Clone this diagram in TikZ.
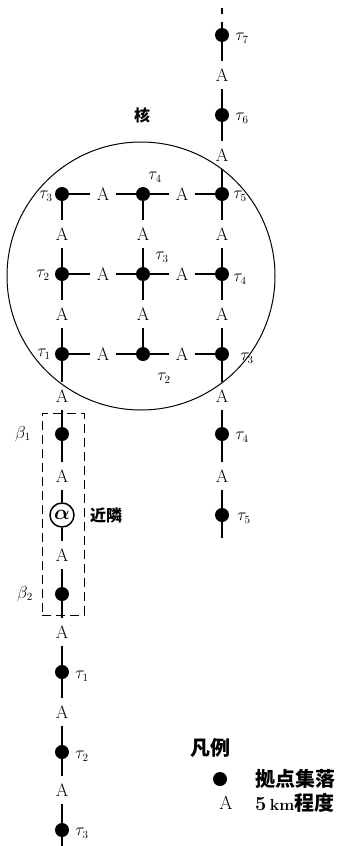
\documentclass[tikz,border=0pt]{standalone}
\usepackage{fontspec}
\newfontfamily\jp{Noto Sans CJK JP}
\usetikzlibrary{positioning}

\begin{document}
\begin{tikzpicture}[x=1pt,y=-1pt,
  font=\fontsize{18}{20}\selectfont,
  pt/.style={circle,fill=black,inner sep=0pt,minimum size=14pt},
  dist/.style={inner sep=0pt,minimum width=25pt,minimum height=27pt},
  lbl/.style={font=\fontsize{16}{18}\selectfont,inner sep=1pt},
  road/.style={line width=1.4pt},
  jtxt/.style={font=\jp\bfseries\fontsize{16}{18}\selectfont,inner sep=1pt},
  lgtxt/.style={font=\jp\bfseries\fontsize{20}{22}\selectfont,inner sep=1pt}]
\useasboundingbox (0,0) rectangle (340,846);

% ------------------------------- core -------------------------------------
\node[draw,circle,line width=1pt,minimum size=268pt] (core) at (141,276) {};
\node[jtxt] (corettl) at (142,115) {核};

\foreach \c/\x in {1/62,2/143,3/222}
  \foreach \r/\y in {1/194,2/274,3/354}
    \node[pt] (g\c\r) at (\x,\y) {};
% horizontal links
\foreach \c/\d/\x in {1/2/103,2/3/182}
  \foreach \r/\y in {1/194,2/274,3/354} {
    \node[dist] (h\c\r) at (\x,\y) {A};
    \draw[road] (g\c\r) -- (h\c\r) -- (g\d\r);
  }
% vertical links
\foreach \c/\x in {1/62,2/143,3/222}
  \foreach \r/\s/\y in {1/2/234,2/3/314} {
    \node[dist] (v\c\r) at (\x,\y) {A};
    \draw[road] (g\c\r) -- (v\c\r) -- (g\c\s);
  }

\node[lbl] at (46,196) {$\tau_3$};
\node[lbl] at (155,177) {$\tau_4$};
\node[lbl] at (240,196) {$\tau_5$};
\node[lbl] at (43,275) {$\tau_2$};
\node[lbl] at (162,257) {$\tau_3$};
\node[lbl] at (240,279) {$\tau_4$};
\node[lbl] at (44,354) {$\tau_1$};
\node[lbl] at (164,378) {$\tau_2$};
\node[lbl] at (247,358) {$\tau_3$};

% ------------------------------ upper line --------------------------------
\coordinate (ntop) at (222,22);
\node[pt] (n7) at (222,35) {};
\node[dist] (na7) at (222,75) {A};
\node[pt] (n6) at (222,115) {};
\node[dist] (na6) at (222,155) {A};
\draw[road] (222,8) -- (222,14);
\draw[road] (ntop) -- (n7) -- (na7) -- (n6) -- (na6) -- (g31);
\node[lbl] at (242,38) {$\tau_7$};
\node[lbl] at (242,118) {$\tau_6$};

% ------------------------------ right line --------------------------------
\node[dist] (ea) at (222,396) {A};
\node[pt] (e4) at (222,434) {};
\node[dist] (eb) at (222,476) {A};
\node[pt] (e5) at (222,515) {};
\coordinate (eend) at (222,538);
\draw[road] (g33) -- (ea) -- (e4) -- (eb) -- (e5) -- (eend);
\node[lbl] at (242,437) {$\tau_4$};
\node[lbl] at (244,518) {$\tau_5$};

% ------------------------------ left line ---------------------------------
\node[draw,dashed,line width=1pt,dash pattern=on 9pt off 5pt,
      minimum width=42pt,minimum height=202pt] (nbbox) at (63,514) {};
\node[dist] (wa) at (62,396) {A};
\node[pt] (b1) at (62,434) {};
\node[dist] (wb) at (62,476) {A};
\node[draw,circle,line width=1.5pt,inner sep=0pt,minimum size=24pt,
      font=\fontsize{20}{20}\selectfont\boldmath] (nb) at (62,515) {$\alpha$};
\node[dist] (wc) at (62,555) {A};
\node[pt] (b2) at (62,594) {};
\node[dist] (wd) at (62,632) {A};
\node[pt] (w1) at (62,672) {};
\node[dist] (we) at (62,712) {A};
\node[pt] (w2) at (62,752) {};
\node[dist] (wf) at (62,790) {A};
\node[pt] (w3) at (62,830) {};
\coordinate (wend) at (62,846);
\draw[road] (g13) -- (wa) -- (b1) -- (wb) -- (nb) -- (wc) -- (b2) -- (wd)
  -- (w1) -- (we) -- (w2) -- (wf) -- (w3) -- (wend);
\node[lbl] at (23,434) {$\beta_1$};
\node[lbl] at (25,594) {$\beta_2$};
\node[jtxt] at (106,515) {近隣};
\node[lbl] at (82,676) {$\tau_1$};
\node[lbl] at (82,756) {$\tau_2$};
\node[lbl] at (82,833) {$\tau_3$};

% ------------------------------- legend -----------------------------------
\node[lgtxt] (lgttl) at (210,748) {凡例};
\node[pt] (lgdot) at (220,779) {};
\node[lgtxt,anchor=west] (lgdottxt) at (254,779) {拠点集落};
\node[inner sep=0pt,font=\fontsize{19}{21}\selectfont] (lga) at (226,803) {A};
\node[lgtxt,anchor=west] (lgatxt) at (254,803)
  {{\rmfamily\bfseries\fontsize{20}{22}\selectfont 5\,}{\rmfamily\bfseries\fontsize{16}{18}\selectfont km}程度};
\end{tikzpicture}
\end{document}
